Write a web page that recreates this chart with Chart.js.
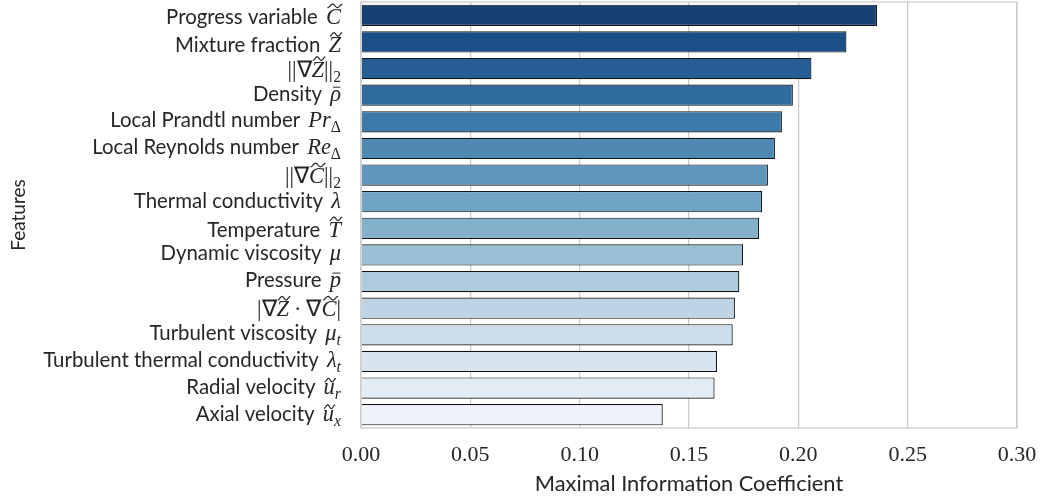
<!DOCTYPE html>
<html lang="en">
<head>
<meta charset="UTF-8">
<title>Maximal Information Coefficient</title>
<script src="https://cdn.jsdelivr.net/npm/chart.js@4.4.1/dist/chart.umd.min.js"></script>
<style>
  html, body { margin: 0; padding: 0; background: #fff; }
</style>
</head>
<body>
<canvas id="chart" width="1043" height="499"></canvas>
<script>
// feature names; $...$ is math: ~X = tilde over X, ^X = bar over X, _X = subscript
var features = [
  "Progress variable $~C$",
  "Mixture fraction $~Z$",
  "$||∇~Z||_2$",
  "Density $^ρ$",
  "Local Prandtl number $Pr_Δ$",
  "Local Reynolds number $Re_Δ$",
  "$||∇~C||_2$",
  "Thermal conductivity $λ$",
  "Temperature $~T$",
  "Dynamic viscosity $μ$",
  "Pressure $^p$",
  "$|∇~Z·∇~C|$",
  "Turbulent viscosity $μ_t$",
  "Turbulent thermal conductivity $λ_t$",
  "Radial velocity $~u_r$",
  "Axial velocity $~u_x$"
];

// maximal information coefficient per feature
var mic = [0.236, 0.222, 0.206, 0.1975, 0.1925, 0.1893, 0.1861, 0.1834,
           0.1820, 0.1747, 0.1730, 0.1710, 0.1700, 0.1628, 0.1617, 0.1380];

var xTicks = [0, 0.05, 0.10, 0.15, 0.20, 0.25, 0.30];

var SANS = "Lato";
var SERIF = "'Liberation Serif'";
var TEXT = "#262626";
var LABEL_SIZE = 20.4;
var MATH_SIZE = 22.5;

// Blues colormap stops, sampled like seaborn "Blues_r" and desaturated to 0.75
var bluesStops = [[247,251,255],[222,235,247],[198,219,239],[158,202,225],[107,174,214],
                  [66,146,198],[33,113,181],[8,81,156],[8,48,107]];

function blues(t) {
  var p = t * 8, i = Math.min(7, Math.floor(p)), f = p - i;
  return bluesStops[i].map(function (c, k) { return c + (bluesStops[i + 1][k] - c) * f; });
}

function desaturate(rgb, prop) {
  var r = rgb[0] / 255, g = rgb[1] / 255, b = rgb[2] / 255;
  var max = Math.max(r, g, b), min = Math.min(r, g, b), d = max - min, l = (max + min) / 2;
  if (d === 0) return rgb;
  var s = l > 0.5 ? d / (2 - max - min) : d / (max + min);
  var h;
  if (max === r) h = (g - b) / d;
  else if (max === g) h = (b - r) / d + 2;
  else h = (r - g) / d + 4;
  if (h < 0) h += 6;
  s *= prop;
  var c = (1 - Math.abs(2 * l - 1)) * s;
  var x = c * (1 - Math.abs(h % 2 - 1));
  var m = l - c / 2, out;
  if (h < 1) out = [c, x, 0];
  else if (h < 2) out = [x, c, 0];
  else if (h < 3) out = [0, c, x];
  else if (h < 4) out = [0, x, c];
  else if (h < 5) out = [x, 0, c];
  else out = [c, 0, x];
  return out.map(function (v) { return Math.round((v + m) * 255); });
}

var n = features.length;
var colors = features.map(function (_, i) {
  var c = desaturate(blues((n - i) / (n + 1)), 0.75);
  return "rgb(" + c.join(",") + ")";
});

// ---- label rendering (sans text + serif math) ----
function parseLabel(str) {
  var items = [];
  str.split("$").forEach(function (part, k) {
    if (k % 2 === 0) {
      if (part) items.push({ text: part, kind: "sans" });
      return;
    }
    var chars = Array.from(part);
    for (var j = 0; j < chars.length; j++) {
      var ch = chars[j];
      if (ch === "~" || ch === "^") { items.push({ text: chars[j + 1], kind: "math", accent: ch }); j++; }
      else if (ch === "_") { items.push({ text: chars[j + 1], kind: "sub" }); j++; }
      else items.push({ text: ch, kind: "math" });
    }
  });
  return items;
}

function itemFont(it) {
  if (it.kind === "sans") return LABEL_SIZE + "px " + SANS;
  var size = it.kind === "sub" ? MATH_SIZE * 0.7 : MATH_SIZE;
  var italic = /[A-Za-zα-ω]/.test(it.text);
  return (italic ? "italic " : "") + size + "px " + SERIF;
}

function drawLabel(ctx, str, right, cy) {
  var items = parseLabel(str);
  var total = 0, asc = 0, desc = 0;
  items.forEach(function (it) {
    ctx.font = itemFont(it);
    var m = ctx.measureText(it.text);
    it.w = m.width;
    // TeX-like spacing: wider word space before math, room round the dot
    it.pad = it.text === "·" ? MATH_SIZE * 0.22 : 0;
    it.after = it.kind === "sans" && / $/.test(it.text) ? 3 : 0;
    it.shift = it.kind === "sub" ? MATH_SIZE * 0.22 : 0;
    it.top = m.actualBoundingBoxAscent - it.shift;
    it.bottom = m.actualBoundingBoxDescent + it.shift;
    var top = it.top + (it.accent === "~" ? 6 : it.accent === "^" ? 4 : 0);
    asc = Math.max(asc, top);
    desc = Math.max(desc, it.bottom);
    total += it.w + it.pad * 2 + it.after;
  });
  var base = cy - (desc - asc) / 2;
  var x = right - total;
  ctx.fillStyle = TEXT;
  ctx.strokeStyle = TEXT;
  ctx.textBaseline = "alphabetic";
  ctx.textAlign = "left";
  items.forEach(function (it) {
    x += it.pad;
    ctx.font = itemFont(it);
    ctx.fillText(it.text, x, base + it.shift);
    var gt = base - it.top;
    if (it.accent === "~") {
      var tw = it.w * 1.0, tx = x + it.w * 0.1, th = 3.6, ty = gt - 3;
      ctx.lineWidth = 1.2;
      ctx.beginPath();
      for (var k = 0; k <= 20; k++) {
        var t = k / 20;
        var px = tx + t * tw, py = ty - (th / 2) * Math.sin(Math.PI * (3 * t - 0.5));
        if (k === 0) ctx.moveTo(px, py); else ctx.lineTo(px, py);
      }
      ctx.stroke();
    } else if (it.accent === "^") {
      ctx.lineWidth = 1;
      ctx.beginPath();
      ctx.moveTo(x + it.w * 0.25, gt - 2.5);
      ctx.lineTo(x + it.w * 0.95, gt - 2.5);
      ctx.stroke();
    }
    x += it.w + it.pad + it.after;
  });
}

var labelPlugin = {
  id: "featureLabels",
  afterDraw: function (chart) {
    var ctx = chart.ctx, y = chart.scales.y;
    ctx.save();
    chart.data.labels.forEach(function (lab, i) {
      drawLabel(ctx, lab, chart.chartArea.left - 20, y.getPixelForValue(i));
    });
    ctx.restore();
  }
};

// light grey frame round the plot, over the bars like seaborn's spines
var framePlugin = {
  id: "frame",
  afterDatasetsDraw: function (chart) {
    var a = chart.chartArea, ctx = chart.ctx;
    ctx.save();
    ctx.strokeStyle = "#cccccc";
    ctx.lineWidth = 1.25;
    ctx.strokeRect(a.left, a.top, a.right - a.left, a.bottom - a.top);
    ctx.restore();
  }
};

var ctx = document.getElementById("chart").getContext("2d");
var chart = new Chart(ctx, {
  type: "bar",
  data: {
    labels: features,
    datasets: [{
      data: mic,
      backgroundColor: colors,
      borderColor: "#141414",
      borderWidth: 1.2,
      barPercentage: 0.8,
      categoryPercentage: 1
    }]
  },
  options: {
    indexAxis: "y",
    responsive: false,
    animation: false,
    devicePixelRatio: 1,
    layout: { padding: { top: 2, right: 26, left: 0, bottom: 0 } },
    plugins: { legend: { display: false }, tooltip: { enabled: false } },
    scales: {
      x: {
        min: 0,
        max: 0.3,
        afterBuildTicks: function (s) { s.ticks = xTicks.map(function (v) { return { value: v }; }); },
        afterFit: function (s) { s.height = 71; s.paddingLeft = 0; s.paddingRight = 0; },
        ticks: {
          callback: function (v) { return Number(v).toFixed(2); },
          font: { family: SERIF, size: 22 },
          color: TEXT,
          padding: 14,
          maxRotation: 0
        },
        grid: { color: "#cccccc", lineWidth: 1.25, drawTicks: false },
        border: { display: false },
        title: {
          display: true,
          text: "Maximal Information Coefficient",
          font: { family: SANS, size: 21.8 },
          color: TEXT,
          padding: { top: 0, bottom: 2 }
        }
      },
      y: {
        afterFit: function (s) { s.width = 361; },
        ticks: { display: false },
        grid: { display: false },
        border: { display: false },
        title: {
          display: true,
          text: "Features",
          font: { family: SANS, size: 19 },
          color: TEXT,
          padding: { top: 7, bottom: 0 }
        }
      }
    }
  },
  plugins: [labelPlugin, framePlugin]
});
</script>
</body>
</html>
